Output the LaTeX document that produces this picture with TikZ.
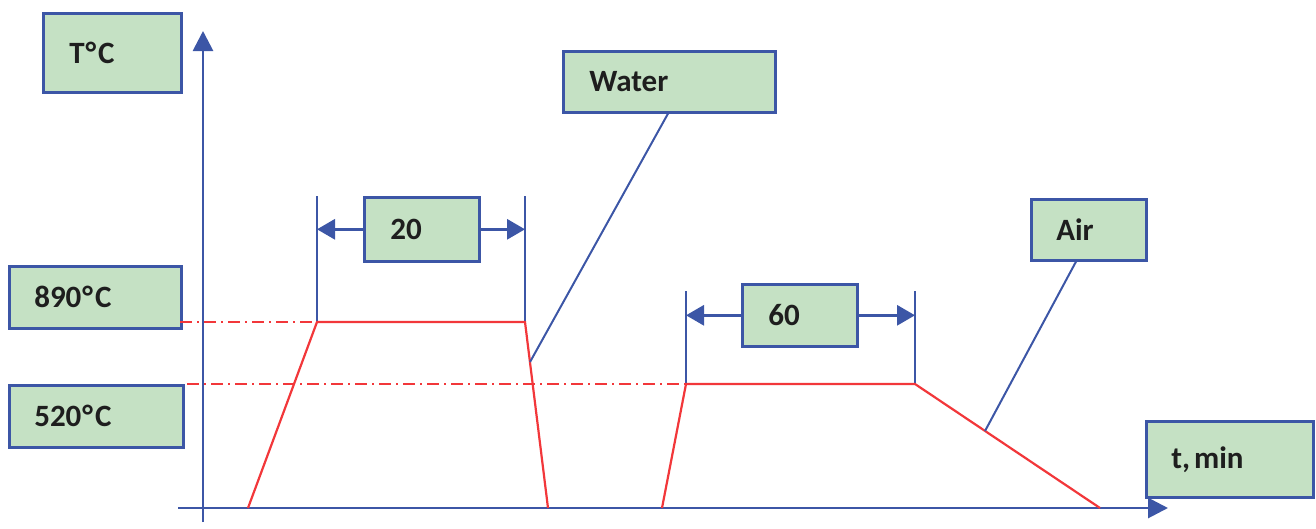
\documentclass[tikz,border=0pt]{standalone}
\usepackage{fontspec}
\setmainfont{Carlito}
\usetikzlibrary{arrows.meta}
\definecolor{boxgreen}{HTML}{C5E1C4}
\definecolor{axblue}{HTML}{3C56A6}
\definecolor{curvered}{HTML}{F2373A}
\definecolor{txt}{HTML}{1E1E1E}
\newcommand{\degC}{\kern1pt°\kern2pt C}
\tikzset{
  lbl/.style={draw=axblue, line width=2.6pt, fill=boxgreen, rectangle, inner ysep=0pt,
    inner xsep=#1, align=left, font=\fontsize{31}{36}\selectfont\bfseries, text=txt, anchor=north west},
  lbl/.default=26pt,
  axis/.style={axblue, line width=2.8pt, -{Triangle[length=20pt,width=20pt]}},
  dimline/.style={axblue, line width=2pt},
  dimarrow/.style={axblue, line width=3pt, -{Triangle[length=18pt,width=20pt]}},
  leader/.style={axblue, line width=2pt},
  curve/.style={curvered, line width=2.2pt, line join=miter},
  dashdot/.style={curvered, line width=2pt, dash pattern=on 12pt off 5pt on 2pt off 5pt}
}
\begin{document}
\begin{tikzpicture}[x=1pt,y=-1pt]
\useasboundingbox (0,0) rectangle (1316,528);
% label boxes
\node[lbl, minimum width=138pt, minimum height=79pt, text width=86pt] (tc) at (42,12) {T\degC};
\node[lbl, minimum width=212pt, minimum height=61pt, text width=160pt] (water) at (562,50) {Water};
\node[lbl, minimum width=115pt, minimum height=64pt, text width=63pt] (b20) at (363,196) {20};
\node[lbl=25pt, minimum width=172pt, minimum height=62pt, text width=122pt] (t890) at (8,265) {890\degC};
\node[lbl=25pt, minimum width=174pt, minimum height=62pt, text width=124pt] (t520) at (8,384) {520\degC};
\node[lbl, minimum width=115pt, minimum height=62pt, text width=63pt] (b60) at (741,283) {60};
\node[lbl=25pt, minimum width=115pt, minimum height=61pt, text width=65pt] (air) at (1030,198) {Air};
\node[lbl=25pt, minimum width=167pt, minimum height=76pt, text width=117pt] (tmin) at (1145,420) {t,\kern4pt min};
% coordinates of the curve
\coordinate (ybot) at (203,522);
\coordinate (ytop) at (203,31);
\coordinate (xl) at (178,508);
\coordinate (xr) at (1168,508);
\coordinate (p1) at (248,508);
\coordinate (p2) at (317,322);
\coordinate (p3) at (525,322);
\coordinate (p4) at (548,508);
\coordinate (q1) at (662,508);
\coordinate (q2) at (686,384);
\coordinate (q3) at (915,384);
\coordinate (q4) at (1100,508);
\coordinate (d1) at (317,196);
\coordinate (d2) at (525,196);
\coordinate (e1) at (686,291);
\coordinate (e2) at (915,291);
\coordinate (wl) at (530,362);
\coordinate (al) at (985,431);
\coordinate (h890) at (180,322);
\coordinate (h520) at (187,384);
% dash-dot reference lines
\draw[dashdot] (h890) -- (p2);
\draw[dashdot] (h520) -- (q2);
% axes
\draw[axis] (ybot) -- (ytop);
\draw[axis] (xl) -- (xr);
% dimension lines
\draw[dimline] (d1) -- (p2);
\draw[dimline] (d2) -- (p3);
\draw[dimline] (e1) -- (q2);
\draw[dimline] (e2) -- (q3);
\draw[dimarrow] (b20.west) -- (b20.west -| d1);
\draw[dimarrow] (b20.east) -- (b20.east -| d2);
\draw[dimarrow] (b60.west) -- (b60.west -| e1);
\draw[dimarrow] (b60.east) -- (b60.east -| e2);
% curves
\draw[curve] (p1) -- (p2) -- (p3) -- (p4);
\draw[curve] (q1) -- (q2) -- (q3) -- (q4);
% leaders
\draw[leader] (water.south -| 668,0) -- (wl);
\draw[leader] (air.south -| 1076,0) -- (al);
\end{tikzpicture}
\end{document}
